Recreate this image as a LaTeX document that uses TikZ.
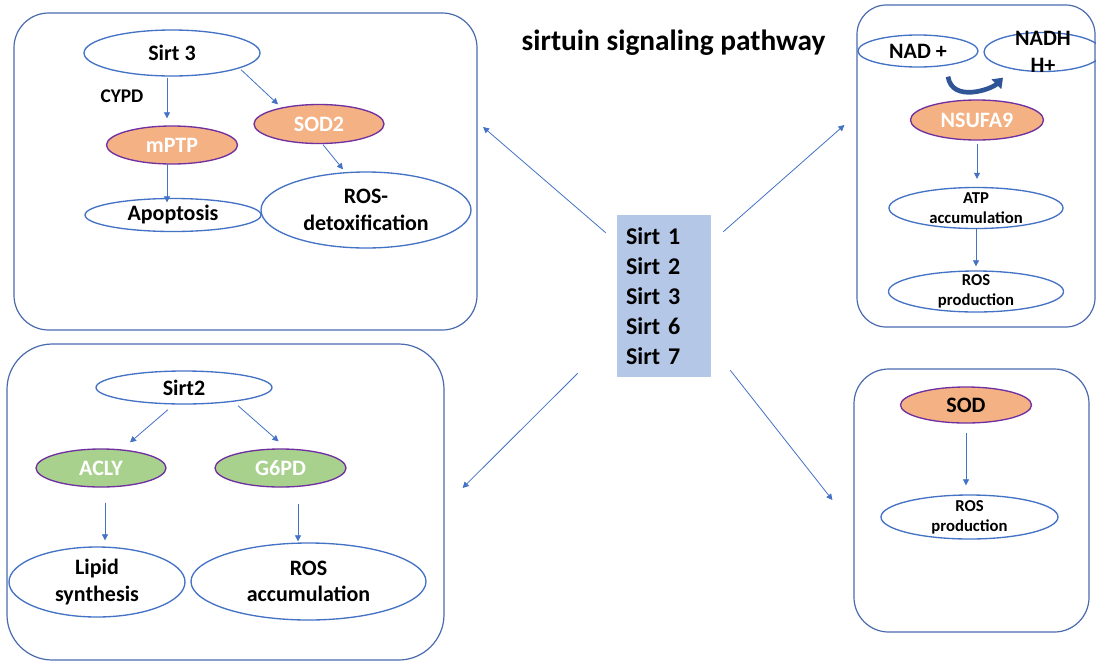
\documentclass[tikz,border=0pt]{standalone}
\usepackage{fontspec}
\setmainfont{Carlito}
\usetikzlibrary{shapes.geometric,arrows.meta}

\definecolor{panelblue}{HTML}{4A6BAE}
\definecolor{ovalblue}{HTML}{4472C4}
\definecolor{linkblue}{HTML}{4472C4}
\definecolor{sirtfill}{HTML}{B4C7E7}
\definecolor{enzorange}{HTML}{F4B183}
\definecolor{enzgreen}{HTML}{A9D18E}
\definecolor{enzedge}{HTML}{7030A0}
\definecolor{nadarrow}{HTML}{2F5597}

\newcommand{\bigtext}{\bfseries\fontsize{16.5}{20}\selectfont}
\newcommand{\smalltext}{\bfseries\fontsize{12.5}{15}\selectfont}

\begin{document}
\begin{tikzpicture}[x=0.75pt,y=-0.75pt,
	panel/.style={draw=panelblue,line width=0.9pt,inner sep=0pt},
	oval/.style={ellipse,draw=ovalblue,line width=1pt,inner sep=0pt,align=center,font=\bigtext},
	orangeoval/.style={oval,draw=enzedge,fill=enzorange,text=white},
	greenoval/.style={oval,draw=enzedge,fill=enzgreen,text=white},
	link/.style={draw=linkblue,line width=0.6pt,-{Triangle[width=4.5pt,length=4.5pt]}},
	every label/.style={font=\smalltext,align=center}]
			\fill[white] (0,0) rectangle (1096,661);
			\useasboundingbox (0,0) rectangle (1096,661);
			\node[panel,rounded corners=26pt,minimum width=347.25pt,minimum height=237.75pt] (boxTL) at (245.5,171.5) {};
			\node[panel,rounded corners=22pt,minimum width=178.5pt,minimum height=241.5pt] (boxTR) at (976,166) {};
			\node[panel,rounded corners=34pt,minimum width=327.75pt,minimum height=237pt] (boxBL) at (225.5,502) {};
			\node[panel,rounded corners=26pt,minimum width=176.25pt,minimum height=197.25pt] (boxBR) at (971.5,500.5) {};
			\node[font=\bfseries\fontsize{22}{26}\selectfont,anchor=base] (title) at (673.5,50) {sirtuin signaling pathway};
			\node[fill=sirtfill,minimum width=70.5pt,minimum height=121.5pt,text width=57pt,inner xsep=6.75pt,align=left,font=\bfseries\fontsize{18}{22.5}\selectfont] (sirts) at (664,296) {Sirt 1\\Sirt 2\\Sirt 3\\Sirt 6\\Sirt 7};
			\draw[link] ([shift={(-11,18)}]sirts.north west) -- ([shift={(5.5,-44.5)}]boxTL.east);
			\draw[link] ([shift={(12,17)}]sirts.north east) -- ([shift={(-12,-41)}]boxTR.west);
			\draw[link] ([shift={(-39,-4)}]sirts.south west) -- ([shift={(18,-14)}]boxBL.east);
			\draw[link] ([shift={(19,-7)}]sirts.south east) -- ([shift={(-21,-0.5)}]boxBR.west);
			\node[oval,minimum width=132pt,minimum height=34.5pt] (sirtC) at (172,53) {Sirt 3};
			\node[font=\bfseries\fontsize{14.5}{17}\selectfont,anchor=base] (cypd) at (122,102) {CYPD};
			\node[orangeoval,minimum width=98.25pt,minimum height=28.5pt] (mptp) at (172,145) {mPTP};
			\node[orangeoval,minimum width=97.5pt,minimum height=29.25pt] (sodB) at (319,124) {SOD2};
			\node[oval,minimum width=132pt,minimum height=24.75pt] (apop) at (173,215) {Apoptosis};
			\node[oval,minimum width=157.5pt,minimum height=57pt] (rosdet) at (366,210) {ROS-\\detoxification};
			\draw[link] ([shift={(-5,1)}]sirtC.south) -- ([shift={(-5,-7)}]mptp.north);
			\draw[link] ([shift={(69,-7)}]sirtC.south) -- ([shift={(-41,0.5)}]sodB.north);
			\draw[link] ([shift={(4,0.5)}]sodB.south) -- ([shift={(-23,-2)}]rosdet.north);
			\draw[link] ([shift={(-5,-1)}]mptp.south) -- ([shift={(-6,4.5)}]apop.north);
			\node[oval,minimum width=90pt,minimum height=24pt] (nad) at (918,51) {NAD +};
			\node[oval,minimum width=88.5pt,minimum height=29.25pt,label={[font=\bigtext]center:NADH\\H+}] (nadh) at (1043,52) {};
			\draw[draw=nadarrow,line width=3.5pt,-{Triangle[width=10pt,length=7pt]}] ([shift={(30,9)}]nad.south) .. controls +(4,26) and +(-12,12) .. ([shift={(-40,5.5)}]nadh.south);
			\node[orangeoval,minimum width=99.75pt,minimum height=30pt] (nsufa) at (977,120) {NSUFA9};
			\node[oval,minimum width=130.5pt,minimum height=30.75pt,label={center:ATP\\accumulation}] (atp) at (976,208) {};
			\node[oval,minimum width=131.25pt,minimum height=30.75pt,label={center:ROS\\production}] (rosT) at (976,291.5) {};
			\draw[link] ([shift={(0,3)}]nsufa.south) -- ([shift={(1,-8)}]atp.north);
			\draw[link] (atp.south) -- ([shift={(0,-4)}]rosT.north);
			\node[oval,minimum width=132pt,minimum height=24.75pt] (sirtB) at (184,387.5) {Sirt2};
			\node[greenoval,minimum width=97.5pt,minimum height=28.5pt] (acly) at (101,468) {ACLY};
			\node[greenoval,minimum width=98.25pt,minimum height=28.5pt] (g6pd) at (280.5,468) {G6PD};
			\node[oval,minimum width=132pt,minimum height=52.5pt] (lipid) at (97,582) {Lipid\\synthesis};
			\node[oval,minimum width=176.25pt,minimum height=57.75pt] (rosacc) at (308.5,581.5) {ROS\\accumulation};
			\draw[link] ([shift={(-16,5)}]sirtB.south) -- ([shift={(29,-6)}]acly.north);
			\draw[link] ([shift={(54,1)}]sirtB.south) -- ([shift={(-2,-7)}]g6pd.north);
			\draw[link] ([shift={(4,15)}]acly.south) -- ([shift={(8,-6)}]lipid.north);
			\draw[link] ([shift={(17.5,16)}]g6pd.south) -- ([shift={(-10.5,-1)}]rosacc.north);
			\node[orangeoval,text=black,minimum width=98.25pt,minimum height=27pt] (sod) at (966,405) {SOD};
			\node[oval,minimum width=132.75pt,minimum height=33pt,label={center:ROS\\production}] (rosB) at (969.5,517) {};
			\draw[link] ([shift={(0,9)}]sod.south) -- ([shift={(-3.5,-9)}]rosB.north);
\end{tikzpicture}
\end{document}
